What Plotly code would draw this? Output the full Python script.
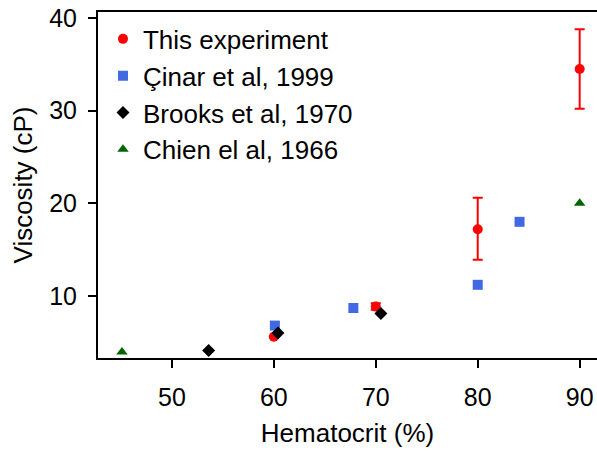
import plotly.graph_objects as go

# Data
exp_x = [60, 70, 80, 90]
exp_y = [5.6, 8.85, 17.2, 34.5]
exp_err_plus = [0.0, 0.35, 3.4, 4.3]
exp_err_minus = [0.0, 0.35, 3.3, 4.3]

cinar_x = [60.1, 67.8, 80, 84.1]
cinar_y = [6.8, 8.7, 11.2, 18.0]

brooks_x = [53.6, 60.4, 70.5]
brooks_y = [4.1, 6.0, 8.1]

chien_x = [45.1, 90]
chien_y = [3.95, 20.0]

FONT = "Liberation Sans, Arial, sans-serif"

fig = go.Figure()
fig.add_trace(go.Scatter(
    x=exp_x, y=exp_y, mode="markers", name="This experiment",
    marker=dict(symbol="circle", size=10, color="#ff0000"),
    error_y=dict(type="data", array=exp_err_plus, arrayminus=exp_err_minus,
                 color="#ff0000", thickness=2, width=5),
))
fig.add_trace(go.Scatter(
    x=cinar_x, y=cinar_y, mode="markers", name="Çinar et al, 1999",
    marker=dict(symbol="square", size=10, color="#4169e1"),
))
fig.add_trace(go.Scatter(
    x=brooks_x, y=brooks_y, mode="markers", name="Brooks et al, 1970",
    marker=dict(symbol="diamond", size=10, color="#000000"),
))
fig.add_trace(go.Scatter(
    x=chien_x, y=chien_y, mode="markers", name="Chien el al, 1966",
    marker=dict(symbol="triangle-up", size=10, color="#006400"),
))

fig.update_layout(
    width=597, height=452,
    margin=dict(l=98, r=0, t=12, b=94),
    paper_bgcolor="white", plot_bgcolor="white",
    font=dict(family=FONT, size=25, color="#000000"),
    showlegend=True,
    legend=dict(x=0.01, y=0.99, xanchor="left", yanchor="top",
                bgcolor="rgba(0,0,0,0)", font=dict(size=26),
                itemsizing="trace", tracegroupgap=0, itemwidth=30),
    xaxis=dict(range=[42.75, 91.7], tickvals=[50, 60, 70, 80, 90],
               showline=True, linecolor="#000000", linewidth=2, mirror=True,
               ticks="outside", ticklen=8, tickwidth=2, tickcolor="#000000",
               tickfont=dict(size=25), ticklabelstandoff=8,
               showgrid=False, zeroline=False,
               title=dict(text="Hematocrit (%)", standoff=14,
                          font=dict(size=26))),
    yaxis=dict(range=[3.3, 40.65], tickvals=[10, 20, 30, 40],
               showline=True, linecolor="#000000", linewidth=2,
               ticks="outside", ticklen=8, tickwidth=2, tickcolor="#000000",
               tickfont=dict(size=25), ticklabelstandoff=6,
               showgrid=False, zeroline=False,
               title=dict(text="Viscosity (cP)", standoff=9,
                          font=dict(size=26))),
)

fig.write_html("out.html")
